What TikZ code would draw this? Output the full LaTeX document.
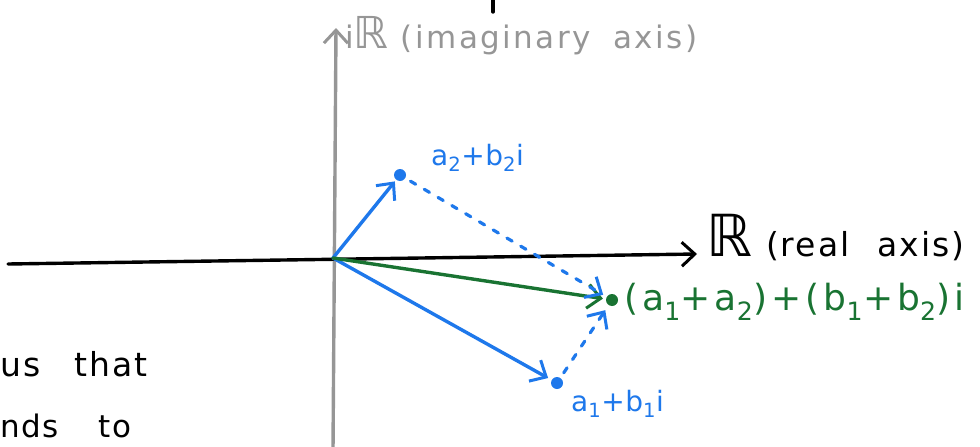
\documentclass[tikz,border=0pt]{standalone}
\usepackage{fontspec}
\setmainfont{DejaVu Sans}
\usetikzlibrary{arrows.meta}
\definecolor{penblue}{RGB}{30,120,235}
\definecolor{pengreen}{RGB}{25,115,50}
\definecolor{pengray}{RGB}{150,150,150}
\newcommand\sbx[1]{\textsubscript{#1}}
\tikzset{
  pen/.style={line width=3.4pt, line cap=round},
  tip/.style={-{Straight Barb[length=13pt,width=24pt,line width=3pt]}},
  dot/.style={circle, fill, inner sep=0pt, minimum size=12pt},
  dotted pen/.style={line width=3.2pt, dash pattern=on 6pt off 10pt, line cap=round},
  lbl/.style={anchor=west, inner sep=0pt},
}
\begin{document}
\begin{tikzpicture}[x=1pt,y=-1pt]
\useasboundingbox (0,0) rectangle (980,447);
% axes
\coordinate (xl) at (8,264);
\coordinate (xr) at (697,254);
\coordinate (yb) at (333,450);
\coordinate (yt) at (336,28);
\coordinate (O) at (333,258);
\coordinate (t1) at (493,-2);
\coordinate (t2) at (493,12);
\draw[pen, pengray, tip] (yb) -- (yt);
\draw[pen, black, tip] (xl) -- (xr);
\draw[pen, black] (t1) -- (t2);
% points
\node[dot, penblue] (p2) at (400,175) {};
\node[dot, penblue] (p1) at (557,383) {};
\node[dot, pengreen] (s) at (612,300) {};
% vectors
\draw[pen, penblue, tip, shorten >=2pt] (O) -- (p2);
\draw[pen, penblue, tip, shorten >=4pt] (O) -- (p1);
\draw[pen, pengreen, tip, shorten >=3pt] (O) -- (s);
\draw[dotted pen, penblue, tip, shorten >=4pt, shorten <=6pt] (p2) -- (s);
\draw[dotted pen, penblue, tip, shorten >=6pt, shorten <=6pt] (p1) -- (s);
% labels
\node[lbl, penblue, font=\fontsize{28}{30}\selectfont\addfontfeature{LetterSpace=2}] (l2) at (431,158) {a\sbx{2}+b\sbx{2}i};
\node[lbl, penblue, font=\fontsize{28}{30}\selectfont\addfontfeature{LetterSpace=2}] (l1) at (571,404) {a\sbx{1}+b\sbx{1}i};
\node[lbl, pengreen, font=\fontsize{36}{40}\selectfont\addfontfeature{LetterSpace=11}] (ls) at (624,302) {(a\sbx{1}+a\sbx{2})+(b\sbx{1}+b\sbx{2})i};
\node[lbl, black, font=\fontsize{33}{36}\selectfont\addfontfeature{LetterSpace=6}] (lr) at (706,238) {{\fontsize{58}{60}\selectfont ℝ}\hspace{14pt}(real\hspace{28pt}axis)};
\node[lbl, pengray, font=\fontsize{31}{34}\selectfont\addfontfeature{LetterSpace=8}] (li) at (345,36) {i{\fontsize{44}{48}\selectfont ℝ}\hspace{12pt}(imaginary\hspace{10pt} axis)};
\node[lbl, black, font=\fontsize{33}{36}\selectfont\addfontfeature{LetterSpace=6}] (tx1) at (0,364) {us\hspace{34pt}that};
\node[lbl, black, font=\fontsize{31}{34}\selectfont\addfontfeature{LetterSpace=5}] (tx2) at (0,426) {nds\hspace{40pt}to};
\end{tikzpicture}
\end{document}
